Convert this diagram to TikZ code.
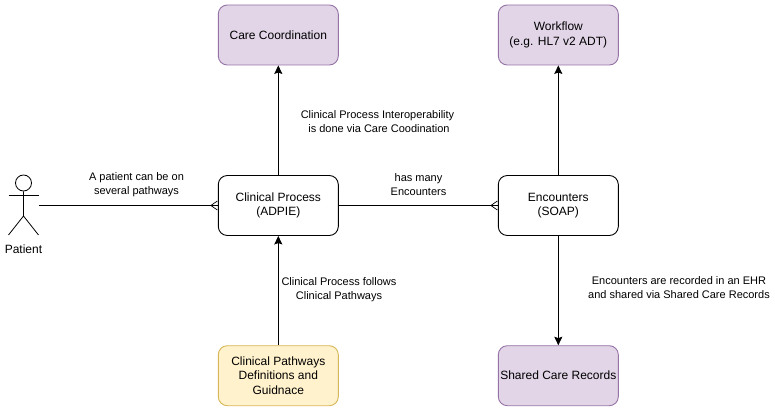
\documentclass[tikz,border=0pt]{standalone}
\usepackage{fontspec}
\setmainfont{Liberation Sans}
\usetikzlibrary{arrows.meta,calc}
\definecolor{purplefill}{HTML}{E1D5E7}
\definecolor{purpleline}{HTML}{9673A6}
\definecolor{yellowfill}{HTML}{FFF2CC}
\definecolor{yellowline}{HTML}{D6B656}
\tikzset{
  basebox/.style={draw,rounded corners=9pt,minimum width=120pt,minimum height=60pt,inner sep=0pt,align=center,font=\fontsize{12}{14.5}\selectfont,line width=0.9pt},
  whitebox/.style={basebox,draw=black,fill=white},
  purplebox/.style={basebox,draw=purpleline,fill=purplefill},
  yellowbox/.style={basebox,draw=yellowline,fill=yellowfill},
  lbl/.style={align=center,inner sep=0pt,font=\fontsize{11}{14}\selectfont},
  conn/.style={line width=0.9pt,-{Stealth[length=8.5pt,width=8pt,inset=1.4pt]}},
  plain/.style={line width=0.9pt},
  crow/.style={line width=0.7pt}
}
\begin{document}
\begin{tikzpicture}[x=1pt,y=-1pt]
\useasboundingbox (0,0) rectangle (775,411);
\node[purplebox] (care) at (278.3,35) {Care Coordination};
\node[purplebox] (work) at (558.3,35) {Workflow\\(e.g. HL7 v2 ADT)};
\node[whitebox] (proc) at (278.3,205.5) {Clinical Process\\(ADPIE)};
\node[whitebox] (enc) at (558.3,205.5) {Encounters\\(SOAP)};
\node[yellowbox] (path) at (278.3,375.7) {Clinical Pathways\\Definitions and\\Guidnace};
\node[purplebox] (shar) at (558.3,375.7) {Shared Care Records};
% actor
\node[draw,circle,line width=0.8pt,minimum size=16pt,inner sep=0pt] (head) at (23.5,183) {};
\coordinate (hip) at (23.5,216);
\coordinate (armL) at (8.5,195);
\coordinate (armR) at (38.5,195);
\coordinate (legL) at (8.5,235);
\coordinate (legR) at (38.5,235);
\coordinate (actorR) at (38.5,205.5);
\draw[plain,line width=0.8pt] (head.south) -- (hip) -- (legL) (hip) -- (legR);
\draw[plain,line width=0.8pt] (armL) -- (armR);
\node[font=\fontsize{12}{14}\selectfont,inner sep=0pt] (patient) at (23.5,249) {Patient};
% connectors
\draw[plain] (actorR) -- (proc.west);
\draw[crow] ($(proc.west)+(-0.5,-4.5)$) -- ($(proc.west)+(-7,0)$) -- ($(proc.west)+(-0.5,4.5)$);
\draw[plain] (proc.east) -- (enc.west);
\draw[crow] ($(enc.west)+(-0.5,-4.5)$) -- ($(enc.west)+(-7,0)$) -- ($(enc.west)+(-0.5,4.5)$);
\draw[conn] (proc.north) -- (care.south);
\draw[conn] (enc.north) -- (work.south);
\draw[conn] (path.north) -- (proc.south);
\draw[conn] (enc.south) -- (shar.north);
% labels
\node[lbl] (l1) at (136.5,185) {A patient can be on\\several pathways};
\node[lbl] (l2) at (418.5,185) {has many\\Encounters};
\node[lbl] (l3) at (377.5,121.5) {Clinical Process Interoperability\\\hspace*{3pt}is done via Care Coodination};
\node[lbl] (l4) at (339,289.5) {Clinical Process follows\\Clinical Pathways};
\node[lbl] (l5) at (679,287.5) {Encounters are recorded in an EHR\\and shared via Shared Care Records};
\end{tikzpicture}
\end{document}
